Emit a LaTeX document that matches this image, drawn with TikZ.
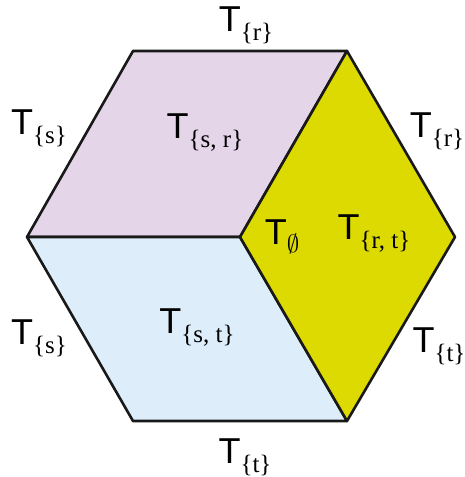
\documentclass[tikz,border=0pt]{standalone}
\usepackage{fontspec}
\usetikzlibrary{positioning}
\newfontfamily\labsans{Liberation Sans}
\newfontfamily\labserif{Liberation Serif}
\definecolor{faceRose}{HTML}{E5D5E8}
\definecolor{faceSky}{HTML}{DEEDFA}
\definecolor{faceLime}{HTML}{DCDA00}
\newcommand\tset[1]{{\labsans\fontsize{36}{40}\selectfont T}\raisebox{-9pt}{\labserif\fontsize{25}{28}\selectfont\{#1\}}}

\begin{document}
\begin{tikzpicture}[x=1pt,y=-1pt,line cap=round,line join=round]
\useasboundingbox (0,0) rectangle (464,477);
\tikzset{face/.style={draw=black!90,line width=2.6pt},lab/.style={inner sep=0pt}}
% hexagon corners
\coordinate (c) at (240,237);
\coordinate (nw) at (133,51); \coordinate (ne) at (347,51);
\coordinate (e) at (455,237); \coordinate (se) at (347,421);
\coordinate (sw) at (133,421); \coordinate (w) at (27,237);
% faces
\path[face,fill=faceRose] (c) -- (w) -- (nw) -- (ne) -- cycle;
\path[face,fill=faceSky] (c) -- (se) -- (sw) -- (w) -- cycle;
\path[face,fill=faceLime] (c) -- (ne) -- (e) -- (se) -- cycle;
% labels
\node[lab] (top) at (246,25) {\tset{r}};
\node[lab] (ls) at (39,128) {\tset{s}};
\node[lab] (sr) at (205,133) {\tset{s, r}};
\node[lab] (rr) at (437,131) {\tset{r}};
\node[lab] (zero) at (282,237) {{\labsans\fontsize{36}{40}\selectfont T}\raisebox{-8pt}{\fontsize{25}{28}\selectfont$\emptyset$}};
\node[lab] (rt) at (374,234) {\tset{r, t}};
\node[lab] (lt) at (39,338) {\tset{s}};
\node[lab] (st) at (197,328) {\tset{s, t}};
\node[lab] (rtt) at (439,346) {\tset{t}};
\node[lab] (bot) at (245,457) {\tset{t}};
\end{tikzpicture}
\end{document}
